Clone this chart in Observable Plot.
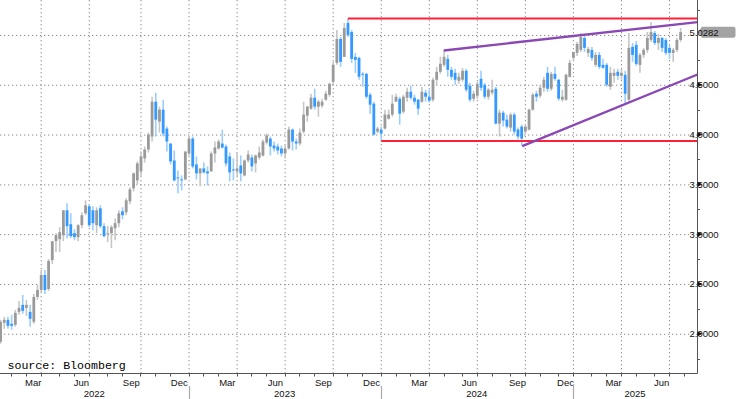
<!DOCTYPE html>
<html><head><meta charset="utf-8">
<script src="https://cdn.jsdelivr.net/npm/d3@7"></script>
<script src="https://cdn.jsdelivr.net/npm/@observablehq/plot@0.6"></script>
<style>html,body{margin:0;padding:0;background:#fff;}</style>
</head><body>
<div id="chart"></div>
<script>
// Weekly bars (week ending Friday), first bar week of 2022-01-07
const firstBar = "2022-01-07";
const opens = [
1.92,2.11,2.14,2.10,2.09,2.22,2.29,2.26,2.22,2.12,
2.37,2.44,2.59,2.45,2.74,2.93,2.95,2.99,3.24,3.10,
3.01,2.97,3.09,3.21,3.28,3.24,3.09,3.26,3.08,3.00,
3.01,3.06,3.11,3.23,3.22,3.33,3.46,3.54,3.63,3.76,
3.85,3.98,4.33,4.13,4.25,4.06,3.91,3.74,3.57,3.55,
3.55,3.81,
3.96,3.70,3.61,3.66,3.63,3.63,3.81,3.86,3.91,3.88,
3.78,3.65,3.63,3.69,3.59,3.74,3.77,3.71,3.77,3.79,
3.92,3.96,3.89,3.88,3.86,3.81,3.86,4.05,3.93,3.91,
4.03,4.19,4.26,4.37,4.28,4.29,4.35,4.40,4.53,4.72,
4.96,4.78,5.12,5.03,4.78,4.77,4.61,4.61,4.40,4.31,
4.03,4.05,
4.06,4.16,4.20,4.33,4.36,4.23,4.37,4.43,4.37,4.35,
4.33,4.42,4.38,4.35,4.55,4.63,4.70,4.76,4.65,4.62,
4.54,4.55,4.64,4.49,4.36,4.39,4.56,4.50,4.38,4.42,
4.46,4.11,4.22,4.15,4.07,4.20,4.05,4.08,4.03,4.05,
4.25,4.41,4.39,4.47,4.62,4.46,4.61,4.55,4.35,4.35,
4.58,4.77,
4.82,4.85,4.97,4.82,4.85,4.70,4.80,4.70,4.70,4.48,
4.59,4.63,4.59,4.60,4.35,4.88,4.90,4.70,4.80,4.85,
4.95,5.02,4.92,4.97,4.95,4.87,4.82,4.85,4.95];
const highs = [
2.14,2.17,2.17,2.19,2.24,2.33,2.39,2.34,2.29,2.40,
2.49,2.64,2.64,2.75,2.93,3.01,3.07,3.24,3.31,3.21,
3.05,3.10,3.22,3.34,3.30,3.28,3.27,3.29,3.11,3.08,
3.09,3.16,3.24,3.27,3.36,3.47,3.62,3.73,3.83,3.88,
4.02,4.38,4.42,4.28,4.35,4.08,3.91,3.84,3.64,3.59,
3.83,3.98,
3.98,3.78,3.66,3.72,3.68,3.83,3.93,3.95,4.05,3.90,
3.82,3.76,3.82,3.79,3.75,3.84,3.80,3.80,3.88,3.95,
4.01,3.98,3.93,3.91,3.89,3.90,4.08,4.06,3.96,4.06,
4.33,4.29,4.41,4.46,4.35,4.36,4.44,4.52,4.73,5.05,
4.98,5.12,5.16,5.05,4.82,4.78,4.63,4.62,4.42,4.33,
4.08,4.08,
4.25,4.25,4.40,4.41,4.38,4.40,4.47,4.49,4.40,4.36,
4.48,4.45,4.45,4.57,4.68,4.78,4.85,4.80,4.68,4.66,
4.62,4.67,4.66,4.52,4.44,4.53,4.64,4.52,4.47,4.55,
4.48,4.25,4.24,4.20,4.22,4.22,4.07,4.10,4.10,4.26,
4.42,4.44,4.50,4.58,4.68,4.63,4.68,4.56,4.45,4.61,
4.75,4.83,
4.93,5.02,5.00,4.88,4.88,4.83,4.83,4.76,4.72,4.68,
4.66,4.66,4.66,4.64,5.02,4.92,4.94,4.82,4.87,5.03,
5.13,5.04,5.01,4.98,4.97,4.90,4.87,4.97,5.07];
const lows = [
1.90,2.05,2.05,2.04,2.07,2.19,2.20,2.18,2.07,2.10,
2.34,2.42,2.40,2.43,2.70,2.82,2.82,2.93,2.96,2.96,
2.94,2.93,3.06,3.19,3.07,3.04,3.01,3.06,2.97,2.92,
2.86,2.94,3.07,3.15,3.19,3.30,3.43,3.50,3.58,3.72,
3.82,3.93,3.98,4.02,3.98,3.83,3.70,3.53,3.41,3.44,
3.54,3.79,
3.66,3.55,3.48,3.61,3.49,3.63,3.72,3.85,3.86,3.68,
3.53,3.54,3.58,3.53,3.58,3.72,3.63,3.62,3.75,3.78,
3.90,3.79,3.83,3.80,3.78,3.76,3.85,3.84,3.85,3.89,
4.01,4.13,4.25,4.25,4.18,4.27,4.34,4.38,4.51,4.70,
4.68,4.78,4.98,4.72,4.62,4.55,4.48,4.36,4.21,3.99,
4.01,3.94,
4.05,4.15,4.18,4.33,4.10,4.21,4.33,4.35,4.30,4.20,
4.32,4.33,4.32,4.33,4.50,4.61,4.68,4.58,4.55,4.50,
4.51,4.53,4.43,4.33,4.33,4.36,4.44,4.36,4.35,4.40,
4.10,3.98,4.08,4.06,4.03,4.00,3.95,3.89,4.00,4.04,
4.24,4.33,4.37,4.43,4.43,4.44,4.54,4.34,4.33,4.34,
4.57,4.74,
4.79,4.83,4.83,4.78,4.74,4.68,4.66,4.66,4.48,4.45,
4.52,4.55,4.55,4.31,4.33,4.73,4.69,4.62,4.77,4.82,
4.93,4.90,4.85,4.83,4.80,4.76,4.73,4.83,4.93];
const closes = [
2.12,2.14,2.08,2.08,2.21,2.26,2.23,2.29,2.15,2.37,
2.44,2.59,2.44,2.73,2.93,2.99,3.02,3.24,3.08,2.98,
2.97,3.09,3.19,3.29,3.09,3.11,3.24,3.08,2.98,3.01,
3.07,3.11,3.21,3.19,3.34,3.45,3.61,3.71,3.78,3.85,
4.00,4.33,4.15,4.25,4.01,3.93,3.73,3.54,3.56,3.54,
3.83,3.96,
3.68,3.61,3.66,3.62,3.61,3.81,3.87,3.93,3.87,3.71,
3.62,3.64,3.66,3.61,3.74,3.80,3.68,3.79,3.82,3.93,
3.99,3.88,3.86,3.84,3.81,3.86,4.05,3.93,3.91,4.02,
4.20,4.28,4.37,4.28,4.33,4.33,4.41,4.51,4.70,4.96,
4.73,5.07,5.00,4.76,4.75,4.58,4.60,4.38,4.30,4.00,
4.06,4.01,
4.20,4.20,4.31,4.38,4.21,4.38,4.43,4.37,4.33,4.26,
4.43,4.38,4.34,4.55,4.63,4.71,4.78,4.65,4.58,4.55,
4.58,4.64,4.45,4.35,4.41,4.51,4.47,4.38,4.45,4.45,
4.11,4.22,4.14,4.08,4.20,4.03,3.98,3.96,4.08,4.25,
4.40,4.38,4.47,4.55,4.46,4.61,4.56,4.36,4.38,4.60,
4.72,4.83,
4.91,4.98,4.87,4.86,4.77,4.80,4.68,4.67,4.50,4.62,
4.62,4.59,4.62,4.41,4.87,4.80,4.71,4.80,4.85,4.97,
5.03,4.92,4.97,4.87,4.82,4.82,4.85,4.95,5.0282];

const yTicks = [2.0, 2.5, 3.0, 3.5, 4.0, 4.5, 5.0];
const yMinorTicks = [1.75, 2.25, 2.75, 3.25, 3.75, 4.25, 4.75, 5.25];
const quarterMonths = {2: "Mar", 5: "Jun", 8: "Sep", 11: "Dec"};
const years = [2022, 2023, 2024, 2025];
const lastPrice = 5.0282;
const sourceText = "source: Bloomberg";
// horizontal levels (red) and trend channel (purple)
const levels = [
  {x1: "2023-10-26T16:00Z", y1: 5.17, x2: "2025-08-19", y2: 5.17},
  {x1: "2023-12-29T00:00Z", y1: 3.94, x2: "2025-08-19", y2: 3.94}
];
const trends = [
  {x1: "2024-04-25T12:00Z", y1: 4.849, x2: "2025-08-19", y2: 5.134},
  {x1: "2024-09-21T00:00Z", y1: 3.889, x2: "2025-08-19", y2: 4.608}
];

const X0 = new Date("2022-01-06T22:00:00Z"), X1 = new Date("2025-08-19T00:00:00Z");
const dates = closes.map((_, i) => d3.utcDay.offset(new Date(firstBar + "T00:00:00Z"), 7 * i));
const bars = dates.map((date, i) => ({date, open: opens[i], high: highs[i], low: lows[i], close: closes[i]}));
const upBars = bars.filter(d => d.close >= d.open);
const downBars = bars.filter(d => d.close < d.open);

// last Friday of each month = last bar of the month (axis ticks)
const monthEnds = [];
for (let m = d3.utcMonth.floor(X0); m < X1; m = d3.utcMonth.offset(m, 1)) {
  const lastDay = d3.utcDay.offset(d3.utcMonth.offset(m, 1), -1);
  const fri = d3.utcFriday.floor(lastDay);
  monthEnds.push({month: m, fri});
}
const quarterGrid = monthEnds.filter(d => d.month.getUTCMonth() % 3 === 2 && d.fri >= X0 && d.fri <= X1).map(d => d.fri);
const toD = s => new Date(s);

const chart = Plot.plot({
  width: 736, height: 399,
  marginTop: 0, marginRight: 39, marginBottom: 26, marginLeft: 0,
  x: {type: "utc", domain: [X0, X1], axis: null},
  y: {domain: [1.6061, 5.351], axis: null},
  style: {background: "#fff", overflow: "visible", fontFamily: "'Liberation Sans', Arial, sans-serif"},
  marks: [
    Plot.ruleY(yTicks, {stroke: "#8c8c8c", strokeDasharray: "1.3,2.7"}),
    Plot.ruleX(quarterGrid, {stroke: "#8c8c8c", strokeDasharray: "1.3,2.7"}),
    Plot.ruleX(upBars, {x: "date", y1: "low", y2: "high", stroke: "#c6c6c6", strokeWidth: 1.6, clip: true}),
    Plot.ruleX(downBars, {x: "date", y1: "low", y2: "high", stroke: "#9ccdfb", strokeWidth: 1.6, clip: true}),
    Plot.ruleX(upBars, {x: "date", y1: "open", y2: "close", stroke: "#9a9a9a", strokeWidth: 2.8, clip: true}),
    Plot.ruleX(downBars, {x: "date", y1: "open", y2: "close", stroke: "#3399ff", strokeWidth: 2.8, clip: true}),
    Plot.link(levels, {x1: d => toD(d.x1), y1: "y1", x2: d => toD(d.x2), y2: "y2", stroke: "#ff2038", strokeWidth: 2}),
    Plot.link(trends, {x1: d => toD(d.x1), y1: "y1", x2: d => toD(d.x2), y2: "y2", stroke: "#8a48b4", strokeWidth: 2.4}),
    Plot.text([sourceText], {frameAnchor: "bottom-left", dx: 7, dy: -5, lineAnchor: "bottom", textAnchor: "start",
      fontFamily: "'Liberation Mono', 'DejaVu Sans Mono', monospace", fontSize: 11.6, fill: "#000"})
  ]
});
document.getElementById("chart").appendChild(chart);

const xs = chart.scale("x"), ys = chart.scale("y");
const X = d => xs.apply(d), Y = v => ys.apply(v);
const svg = d3.select(chart);
const g = svg.append("g").attr("font-family", "'Liberation Sans', Arial, sans-serif").attr("font-size", 9.5).attr("fill", "#111");
const right = 697, bottom = 373;

// axis lines
g.append("line").attr("x1", 0).attr("x2", right + 0.5).attr("y1", bottom + 0.5).attr("y2", bottom + 0.5).attr("stroke", "#555");
g.append("line").attr("x1", right + 0.5).attr("x2", right + 0.5).attr("y1", 0).attr("y2", bottom + 0.5).attr("stroke", "#555");

// right axis
for (const v of yMinorTicks) {
  const y = Math.round(Y(v)) + 0.5;
  if (y < 0 || y > bottom) continue;
  g.append("line").attr("x1", right).attr("x2", right + 3).attr("y1", y).attr("y2", y).attr("stroke", "#555");
}
const tagY = Y(lastPrice);
for (const v of yTicks) {
  const y = Y(v);
  if (Math.abs(y - tagY) < 11) continue; // hidden beneath the last-price tag
  g.append("path").attr("d", `M${right + 0.5},${y - 2.5}L${right + 5.5},${y}L${right + 0.5},${y + 2.5}Z`).attr("fill", "#111");
  g.append("text").attr("x", 704).attr("y", y).attr("dy", "0.36em").text(d3.format(".4f")(v));
}
// last price tag
{
  const y = tagY;
  g.append("path").attr("d", `M${right + 1},${y}L${right + 5},${y - 5.5}L733.5,${y - 5.5}Q735.5,${y - 5.5} 735.5,${y - 3.5}L735.5,${y + 3.5}Q735.5,${y + 5.5} 733.5,${y + 5.5}L${right + 5},${y + 5.5}Z`)
    .attr("fill", "#a3a3a3");
  g.append("text").attr("x", 704).attr("y", y).attr("dy", "0.36em").attr("fill", "#111").text(d3.format(".4f")(lastPrice));
}

// bottom axis: month ticks at last bar of each month
const endFri = {};
for (const d of monthEnds) endFri[d.month.getUTCFullYear() * 12 + d.month.getUTCMonth()] = d.fri;
for (const d of monthEnds) {
  if (d.fri < X0 || d.fri > X1) continue;
  const x = Math.round(X(d.fri)) + 0.5;
  g.append("line").attr("x1", x).attr("x2", x).attr("y1", bottom).attr("y2", bottom + 3.5).attr("stroke", "#555");
}
for (const d of monthEnds) {
  const mi = d.month.getUTCMonth();
  if (!(mi in quarterMonths)) continue;
  const key = d.month.getUTCFullYear() * 12 + mi;
  const prev = endFri[key - 1];
  if (!prev || d.fri > X1) continue;
  const x = (X(prev) + X(d.fri)) / 2;
  g.append("text").attr("x", x).attr("y", 385.5).attr("text-anchor", "middle").text(quarterMonths[mi]);
}
for (const yr of years) {
  const a = endFri[(yr - 1) * 12 + 11], b = endFri[yr * 12 + 11];
  const xa = a ? Math.max(0, X(a)) : 0;
  const xb = b ? Math.min(right, X(b)) : right;
  g.append("text").attr("x", (xa + xb) / 2).attr("y", 397).attr("text-anchor", "middle").text(String(yr));
  if (b && b < X1) {
    const x = Math.round(X(b)) + 0.5;
    g.append("line").attr("x1", x).attr("x2", x).attr("y1", 386).attr("y2", 399).attr("stroke", "#aaa").attr("stroke-width", 1.2);
  }
}
</script>
</body></html>
